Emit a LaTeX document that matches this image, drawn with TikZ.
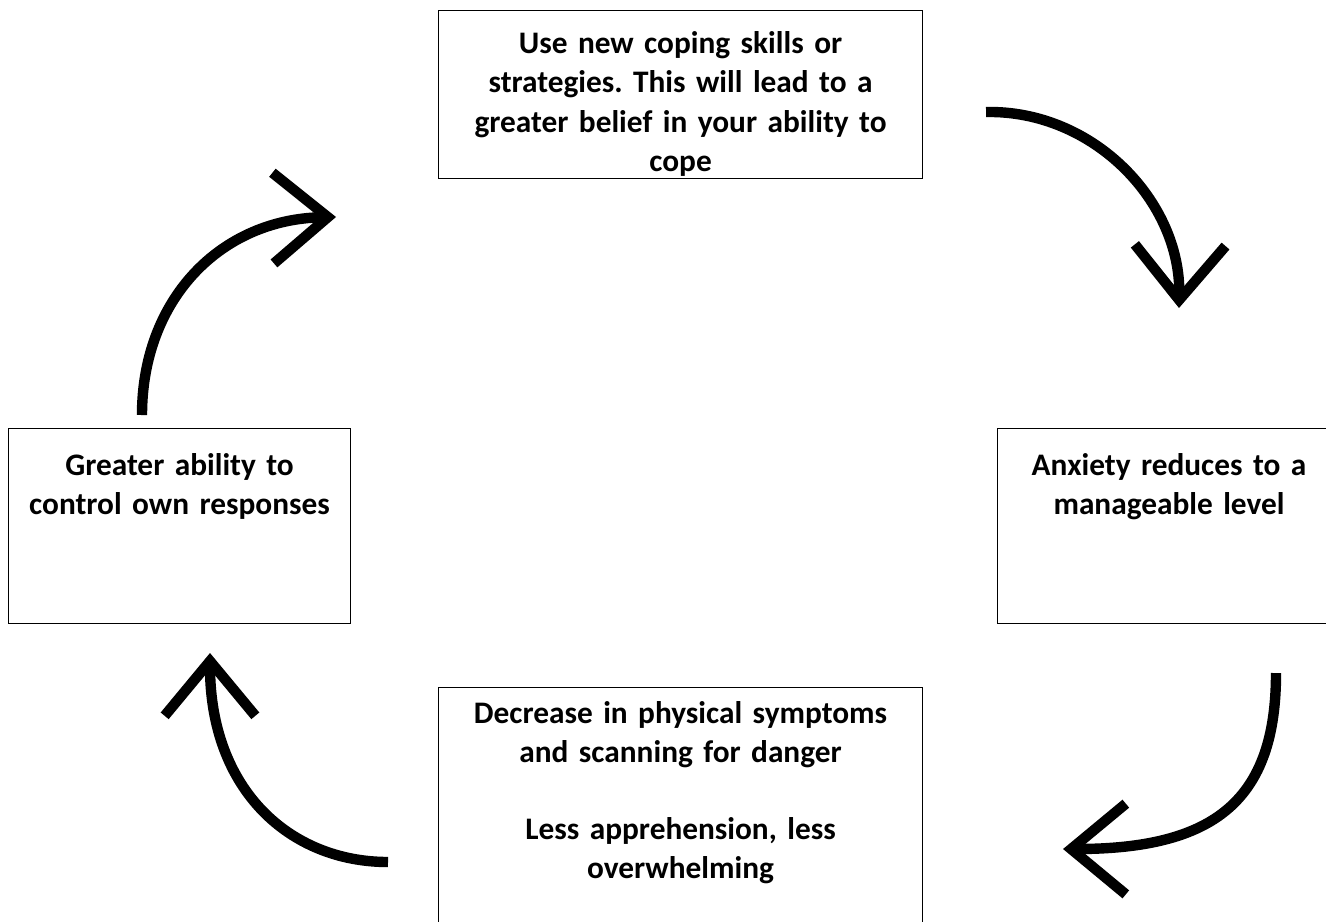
\documentclass[tikz,border=0pt]{standalone}
\usepackage{fontspec}
\setmainfont{Carlito}
\usetikzlibrary{arrows.meta}
\tikzset{
    box/.style={draw, line width=0.8pt, inner sep=0pt, anchor=north west, align=center,
        font=\fontsize{23.5}{29.5}\selectfont\bfseries\frenchspacing}, % every text box
    cycle/.style={line width=7.8pt, -{Straight Barb[sharp, length=41pt, width=68pt]}}, % the thick curved arrows
}

\begin{document}
\begin{tikzpicture}[x=0.75pt, y=-0.75pt]
        \useasboundingbox (0,0) rectangle (1326,921);
        \clip (0,0) rectangle (1326,921);

        % Boxes here
        % \node[box, <size>] (name) at (top left) {text};
        \node[box, text width=363pt, text height=32.25pt, text depth=93.75pt] (COPE) at (438,10)
            {Use new coping skills or\\strategies. This will lead to a\\greater belief in your ability to\\cope};
        \node[box, text width=257.25pt, text height=35.25pt, text depth=111pt] (ANXIETY) at (997,428)
            {Anxiety reduces to a\\manageable level};
        \node[box, text width=363pt, text height=27pt, text depth=170pt] (DECREASE) at (438,687)
            {Decrease in physical symptoms\\and scanning for danger\\[28pt]Less apprehension, less\\overwhelming};
        \node[box, text width=256.5pt, text height=35.25pt, text depth=111pt] (CONTROL) at (8,428)
            {Greater ability to\\control own responses};

        % Arrow ends
        \coordinate (C2A_s) at (986,112);  \coordinate (C2A_e) at (1179,308);
        \coordinate (A2D_s) at (1276,673); \coordinate (A2D_e) at (1063,849);
        \coordinate (D2C_s) at (388,862);  \coordinate (D2C_e) at (210,653);
        \coordinate (C2C_s) at (142,415);  \coordinate (C2C_e) at (336,217);

        % draw Arrows
        \draw[cycle] (C2A_s) .. controls (1094,110) and (1181,202) .. (C2A_e);
        \draw[cycle] (A2D_s) .. controls (1276,800) and (1215,849) .. (A2D_e);
        \draw[cycle] (D2C_s) .. controls (290,862) and (210,790) .. (D2C_e);
        \draw[cycle] (C2C_s) .. controls (142,300) and (220,219) .. (C2C_e);
\end{tikzpicture}
\end{document}
